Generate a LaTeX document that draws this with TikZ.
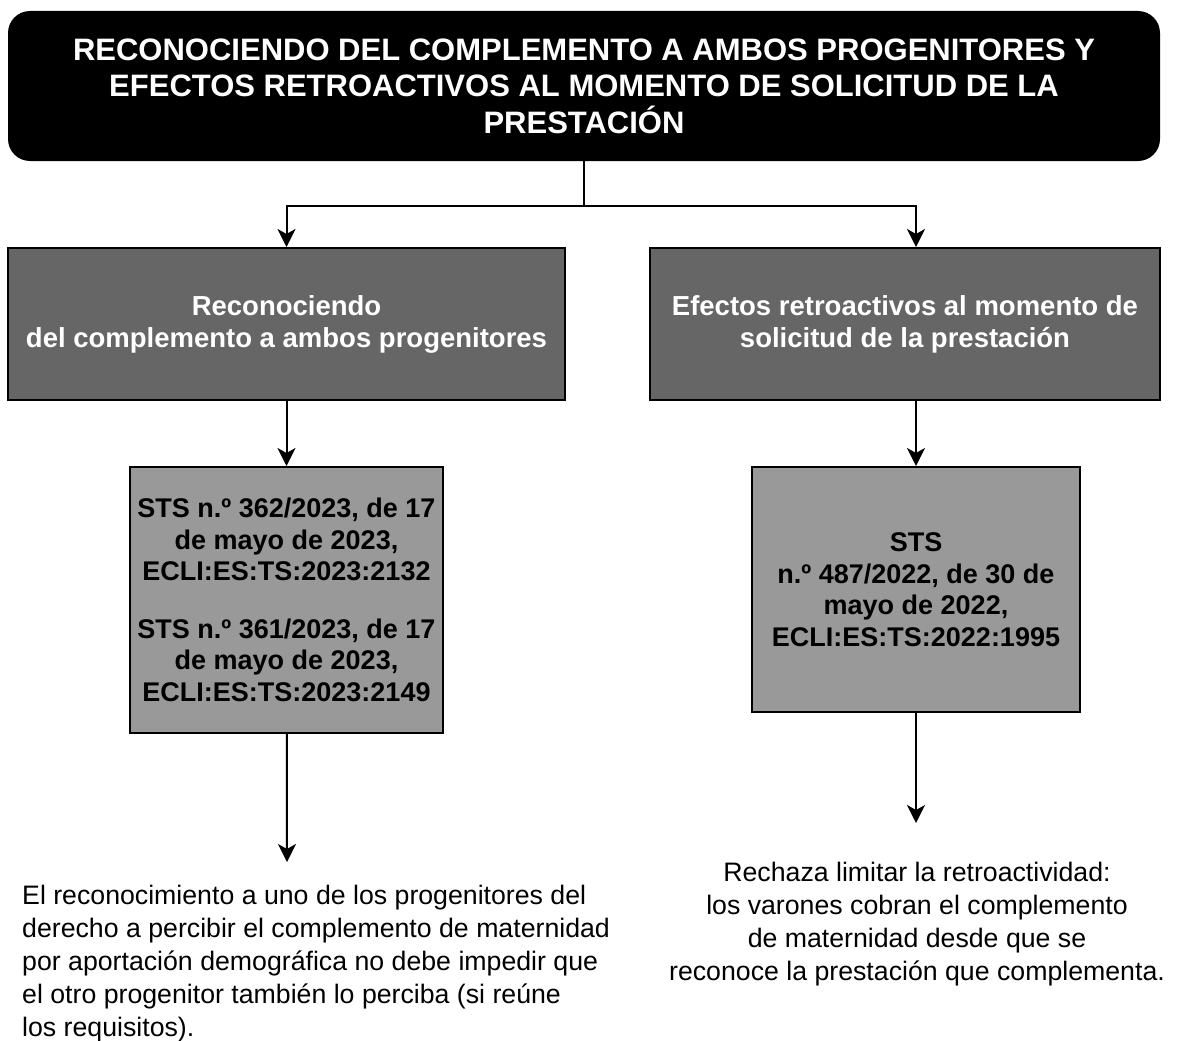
\documentclass[tikz,border=0pt]{standalone}
\usepackage{fontspec}
\setmainfont{Liberation Sans}
\usetikzlibrary{arrows.meta, positioning}
\definecolor{topicgrey}{RGB}{102, 102, 102}
\definecolor{rulinggrey}{RGB}{153, 153, 153}

\begin{document}
\begin{tikzpicture}[x=1pt, y=-1pt,
    headbox/.style={rectangle, rounded corners=22pt, fill=black, text=white, align=center, minimum width=1152pt, minimum height=150pt, font=\fontsize{31}{36.5}\selectfont\bfseries},
    topic/.style={rectangle, draw, line width=2pt, fill=topicgrey, text=white, align=center, minimum height=152pt, font=\fontsize{27.5}{32}\selectfont\bfseries},
    ruling/.style={rectangle, draw, line width=2pt, fill=rulinggrey, align=center, font=\fontsize{27}{31.5}\selectfont\bfseries},
    note/.style={inner sep=0pt, font=\fontsize{26.7}{33}\selectfont},
    arrow/.style={-{Stealth[length=18pt, width=18pt, inset=5pt]}, line width=2pt}
]
\useasboundingbox (0,0) rectangle (1178,1041);

\node[headbox] (title) at (584,86) {RECONOCIENDO DEL COMPLEMENTO A AMBOS PROGENITORES Y\\ EFECTOS RETROACTIVOS AL MOMENTO DE SOLICITUD DE LA\\ PRESTACIÓN};

\node[topic, minimum width=557pt] (ldark) at (286.5,324) {Reconociendo\\ del complemento a ambos progenitores};
\node[topic, minimum width=510pt] (rdark) at (905,324) {Efectos retroactivos al momento de\\ solicitud de la prestación};

\node[ruling, minimum width=313pt, minimum height=266pt, below=65pt of ldark] (llight) {STS n.º 362/2023, de 17\\ de mayo de 2023,\\ ECLI:ES:TS:2023:2132\\[26pt] STS n.º 361/2023, de 17\\ de mayo de 2023,\\ ECLI:ES:TS:2023:2149};
\node[ruling, minimum width=328pt, minimum height=245pt] (rlight) at (916,589.5) {STS\\ n.º 487/2022, de 30 de\\ mayo de 2022,\\ ECLI:ES:TS:2022:1995};

\node[note, anchor=north west, align=left] (lres) at (22,885) {El reconocimiento a uno de los progenitores del\\ derecho a percibir el complemento de maternidad\\ por aportación demográfica no debe impedir que\\ el otro progenitor también lo perciba (si reúne\\ los requisitos).};
\node[note, anchor=north, align=center] (rres) at (917,862) {Rechaza limitar la retroactividad:\\ los varones cobran el complemento\\ de maternidad desde que se\\ reconoce la prestación que complementa.};

\coordinate (lend) at (287,862);
\coordinate (rend) at (916,823);

% connectors
\draw[line width=2pt] (title.south) -- ++(0,45) coordinate (split);
\draw[arrow] (split) -| (ldark.north);
\draw[arrow] (split) -| (rlight.north |- rdark.north);
\draw[arrow] (ldark) -- (llight);
\draw[arrow] (rlight.north |- rdark.south) -- (rlight.north);
\draw[arrow] (llight) -- (lend);
\draw[arrow] (rlight) -- (rend);
\end{tikzpicture}
\end{document}
